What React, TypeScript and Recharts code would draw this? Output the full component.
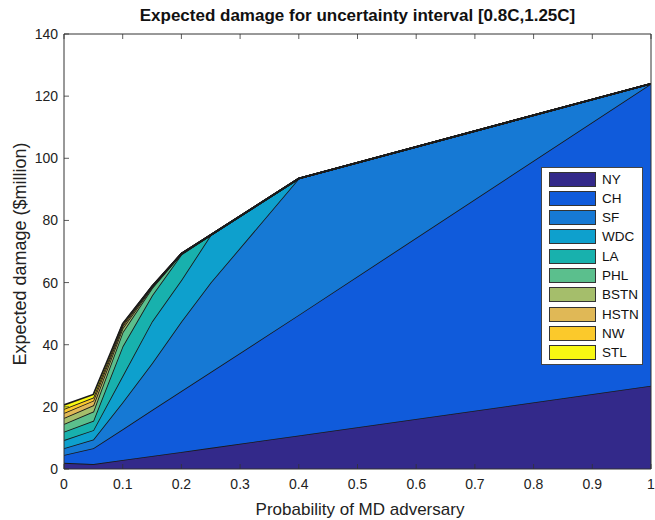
import React from "react"
import { AreaChart, Area, XAxis, YAxis } from "recharts"

// probability of MD adversary (x positions of the samples)
const probs = [0, 0.05, 0.1, 0.15, 0.2, 0.25, 0.4, 1]

// expected damage per city ($million), stacked bottom -> top
const NY = [2, 1.6, 2.9, 4.2, 5.5, 6.8, 10.8, 26.8]
const CH = [2.5, 5.1, 9.9, 14.8, 19.6, 24.4, 38.8, 97.2]
const SF = [2.2, 2.8, 8.7, 15, 22.4, 28.8, 43.9, 0]
const WDC = [2.6, 3, 8.5, 13.5, 13.3, 15.3, 0, 0]
const LA = [2.7, 3, 9.5, 8.3, 8.2, 0, 0, 0]
const PHL = [2.5, 3, 4.5, 2.4, 0.3, 0, 0, 0]
const BSTN = [1.9, 2, 1.3, 0.3, 0, 0, 0, 0]
const HSTN = [1.6, 1.5, 0.7, 0.2, 0, 0, 0, 0]
const NW = [1.3, 1, 0.5, 0.1, 0, 0, 0, 0]
const STL = [1.3, 1, 0.3, 0, 0, 0, 0, 0]

const xTicks = [0, 0.1, 0.2, 0.3, 0.4, 0.5, 0.6, 0.7, 0.8, 0.9, 1]
const yTicks = [0, 20, 40, 60, 80, 100, 120, 140]

const series = [
    { name: "NY", values: NY, color: "#33298a" },
    { name: "CH", values: CH, color: "#105bdb" },
    { name: "SF", values: SF, color: "#1679d4" },
    { name: "WDC", values: WDC, color: "#0ea0cd" },
    { name: "LA", values: LA, color: "#18b1ad" },
    { name: "PHL", values: PHL, color: "#5bbf8d" },
    { name: "BSTN", values: BSTN, color: "#a5be6b" },
    { name: "HSTN", values: HSTN, color: "#e0b856" },
    { name: "NW", values: NW, color: "#fbc92b" },
    { name: "STL", values: STL, color: "#f8f812" },
]

const data = probs.map((p, i) => {
    const row: Record<string, number> = { p }
    series.forEach(s => { row[s.name] = s.values[i] })
    return row
})

const FONT = "'Liberation Sans', Arial, Helvetica, sans-serif"
const AXIS = "#333"
const TICK = 5

// MATLAB style ticks: short lines pointing into the plot
function BottomTick(props: any) {
    const { x, y, payload } = props
    return (
        <g>
            <line x1={x} x2={x} y1={y} y2={y - TICK} stroke={AXIS} strokeWidth={0.8} />
            <text x={x} y={y + 20} textAnchor="middle" fontSize={14} fontFamily={FONT} fill="#222">
                {payload.value}
            </text>
        </g>
    )
}

function TopTick(props: any) {
    const { x, y } = props
    return <line x1={x} x2={x} y1={y} y2={y + TICK} stroke={AXIS} strokeWidth={0.8} />
}

function LeftTick(props: any) {
    const { x, y, payload } = props
    return (
        <g>
            <line x1={x} x2={x + TICK} y1={y} y2={y} stroke={AXIS} strokeWidth={0.8} />
            <text x={x - 6} y={y + 5} textAnchor="end" fontSize={14} fontFamily={FONT} fill="#222">
                {payload.value}
            </text>
        </g>
    )
}

function RightTick(props: any) {
    const { x, y } = props
    return <line x1={x} x2={x - TICK} y1={y} y2={y} stroke={AXIS} strokeWidth={0.8} />
}

export default function App() {
    return (
        <div style={{ position: "absolute", left: 0, top: 0, width: 655, height: 520, background: "#fff", fontFamily: FONT }}>
            <div style={{ position: "absolute", left: 64, width: 587, top: 6, textAlign: "center", fontSize: 17, fontWeight: "bold", color: "#111" }}>
                Expected damage for uncertainty interval [0.8C,1.25C]
            </div>

            <AreaChart
                width={655}
                height={520}
                data={data}
                margin={{ top: 33, right: 3, bottom: 21, left: 24 }}
            >
                <XAxis xAxisId="b" dataKey="p" type="number" domain={[0, 1]} ticks={xTicks}
                    height={30} tickSize={0} tickMargin={0} tick={<BottomTick />}
                    axisLine={{ stroke: AXIS, strokeWidth: 1 }} allowDataOverflow />
                <XAxis xAxisId="t" orientation="top" dataKey="p" type="number" domain={[0, 1]} ticks={xTicks}
                    height={1} tickSize={0} tickMargin={0} tick={<TopTick />}
                    axisLine={{ stroke: AXIS, strokeWidth: 1 }} />
                <YAxis yAxisId="l" type="number" domain={[0, 140]} ticks={yTicks}
                    width={40} tickSize={0} tickMargin={0} tick={<LeftTick />}
                    axisLine={{ stroke: AXIS, strokeWidth: 1 }} allowDataOverflow />
                <YAxis yAxisId="r" orientation="right" type="number" domain={[0, 140]} ticks={yTicks}
                    width={1} tickSize={0} tickMargin={0} tick={<RightTick />}
                    axisLine={{ stroke: AXIS, strokeWidth: 1 }} />

                {series.map(s => (
                    <Area
                        key={s.name}
                        xAxisId="b"
                        yAxisId="l"
                        type="linear"
                        dataKey={s.name}
                        stackId="all"
                        stroke="#1a1a1a"
                        strokeWidth={1.7}
                        fill={s.color}
                        fillOpacity={1}
                        isAnimationActive={false}
                        dot={false}
                        activeDot={false}
                    />
                ))}
            </AreaChart>

            <div style={{ position: "absolute", left: 200, width: 320, top: 500, textAlign: "center", fontSize: 17, color: "#222" }}>
                Probability of MD adversary
            </div>
            <div style={{
                position: "absolute", left: 20, top: 254, width: 300, marginLeft: -150, marginTop: -11,
                textAlign: "center", fontSize: 18, color: "#222", transform: "rotate(-90deg)", lineHeight: "22px"
            }}>
                Expected damage ($million)
            </div>

            {/* legend */}
            <div style={{
                position: "absolute", left: 541, top: 167, width: 100, height: 196,
                background: "#fff", border: "1px solid #444"
            }}>
                {series.map((s, i) => (
                    <div key={s.name} style={{ position: "absolute", left: 7, top: 4 + i * 19.3, height: 14, display: "flex", alignItems: "center" }}>
                        <div style={{ width: 45, height: 13, background: s.color, border: "1px solid #333" }} />
                        <span style={{ marginLeft: 6, fontSize: 13.5, color: "#111" }}>{s.name}</span>
                    </div>
                ))}
            </div>
        </div>
    )
}
